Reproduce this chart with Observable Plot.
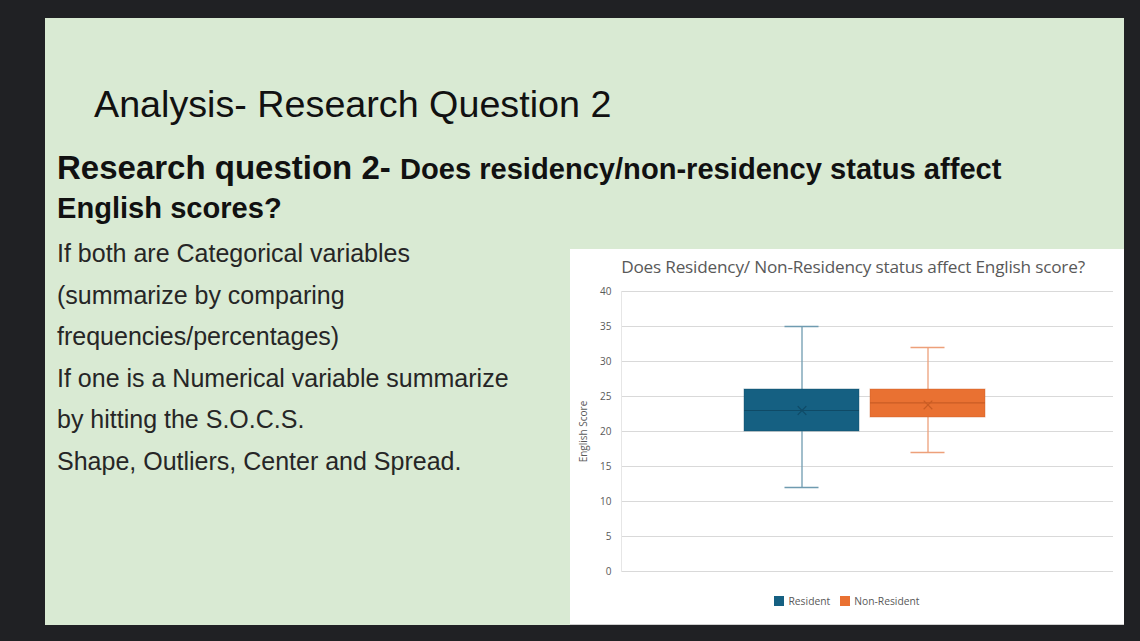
<!DOCTYPE html>
<html>
<head>
<meta charset="utf-8">
<script src="https://cdn.jsdelivr.net/npm/d3@7"></script>
<script src="https://cdn.jsdelivr.net/npm/@observablehq/plot@0.6"></script>
<style>
  html, body { margin: 0; padding: 0; background: #202124; width: 1140px; height: 641px; overflow: hidden; }
  #slide { position: absolute; left: 45px; top: 18px; width: 1079px; height: 607px; background: #d9ead3; font-family: "Liberation Sans", Arial, sans-serif; }
  .t { position: absolute; white-space: nowrap; }
  #h1 { left: 49px; top: 64px; font-size: 37.7px; line-height: 44px; color: #111; }
  #h2 { left: 12px; top: 133px; font-weight: bold; color: #111; line-height: 34px; }
  #h2 .big { font-size: 33px; }
  #h2 .small { font-size: 29.1px; }
  .body { left: 12px; font-size: 25px; line-height: 30px; color: #262626; }
  #chartbox { position: absolute; left: 525px; top: 231px; width: 554px; height: 375px; background: #fff; border-bottom: 1px solid #cfcfcf; }
  #ctitle { position: absolute; left: 0; top: 6px; width: 554px; padding-left: 12px; box-sizing: border-box; text-align: center; font-family: "Open Sans", sans-serif; font-size: 17.2px; color: #595959; letter-spacing: -0.2px; }
  #plot { position: absolute; left: 0; top: 30px; }
  #legend { position: absolute; left: 0; top: 345px; width: 554px; text-align: center; font-family: "Open Sans", sans-serif; font-size: 10.3px; color: #595959; }
  #legend span.sw { display: inline-block; width: 10px; height: 10px; vertical-align: -1px; margin-right: 4px; }
  #legend span.it { margin: 0 5px; }
</style>
</head>
<body>
<div id="slide">
  <div class="t" id="h1">Analysis- Research Question 2</div>
  <div class="t" id="h2"><span class="big">Research question 2- </span><span class="small">Does residency/non-residency status affect</span><br><span class="small">English scores?</span></div>
  <div class="t body" style="top:220px">If both are Categorical variables</div>
  <div class="t body" style="top:262px">(summarize by comparing</div>
  <div class="t body" style="top:303px">frequencies/percentages)</div>
  <div class="t body" style="top:345px">If one is a Numerical variable summarize</div>
  <div class="t body" style="top:386px">by hitting the S.O.C.S.</div>
  <div class="t body" style="top:428px">Shape, Outliers, Center and Spread.</div>
  <div id="chartbox">
    <div id="ctitle">Does Residency/ Non-Residency status affect English score?</div>
    <div id="plot"></div>
    <div id="legend"></div>
  </div>
</div>
<script>
// Data
const groups = ["Resident", "Non-Resident"];
const minVals = [12, 17];
const q1Vals = [20, 22];
const medianVals = [23, 24.1];
const q3Vals = [26, 26];
const maxVals = [35, 32];
const meanVals = [23, 23.8];
const yTicks = [0, 5, 10, 15, 20, 25, 30, 35, 40];

const fills = ["#156082", "#e97132"];
const whiskerColors = ["#6f9bb0", "#eda07a"];
const medianColors = ["#0f4a66", "#c95d24"];

const rows = groups.map((g, i) => ({
  group: g, min: minVals[i], q1: q1Vals[i], median: medianVals[i],
  q3: q3Vals[i], max: maxVals[i], mean: meanVals[i],
  fill: fills[i], whisker: whiskerColors[i], med: medianColors[i]
}));

const chart = Plot.plot({
  width: 554,
  height: 310,
  marginLeft: 51,
  marginRight: 11,
  marginTop: 12,
  marginBottom: 18,
  style: { fontFamily: "Open Sans, sans-serif", fontSize: "10px", color: "#595959", background: "transparent" },
  x: { domain: groups, range: [173, 416], paddingInner: 0.0866, paddingOuter: 0, axis: null },
  y: { domain: [0, 40], ticks: yTicks },
  marks: [
    Plot.gridY(yTicks, { stroke: "#d9d9d9", strokeOpacity: 1, strokeWidth: 1 }),
    Plot.frame({ anchor: "left", stroke: "#e6e6e6" }),
    Plot.axisY(yTicks, { tickSize: 0, tickPadding: 10, label: "English Score", labelAnchor: "center", labelArrow: "none", labelOffset: 42, fontSize: 10 }),
    Plot.ruleX(rows, { x: "group", y1: "min", y2: "q1", stroke: "whisker", strokeWidth: 1.3 }),
    Plot.ruleX(rows, { x: "group", y1: "q3", y2: "max", stroke: "whisker", strokeWidth: 1.3 }),
    Plot.tickY(rows, { x: "group", y: "min", stroke: "whisker", strokeWidth: 1.5, insetLeft: 40.5, insetRight: 40.5 }),
    Plot.tickY(rows, { x: "group", y: "max", stroke: "whisker", strokeWidth: 1.5, insetLeft: 40.5, insetRight: 40.5 }),
    Plot.barY(rows, { x: "group", y1: "q1", y2: "q3", fill: "fill", stroke: "med", strokeOpacity: 0.4, strokeWidth: 1 }),
    Plot.tickY(rows, { x: "group", y: "median", stroke: "med", strokeWidth: 1.2 }),
    Plot.dot(rows, { x: "group", y: "mean", symbol: "times", r: 4, stroke: "med", strokeWidth: 1.2 })
  ]
});
document.getElementById("plot").appendChild(chart);

const legend = document.getElementById("legend");
groups.forEach((g, i) => {
  const it = document.createElement("span");
  it.className = "it";
  it.innerHTML = `<span class="sw" style="background:${fills[i]}"></span>${g}`;
  legend.appendChild(it);
});
</script>
</body>
</html>
